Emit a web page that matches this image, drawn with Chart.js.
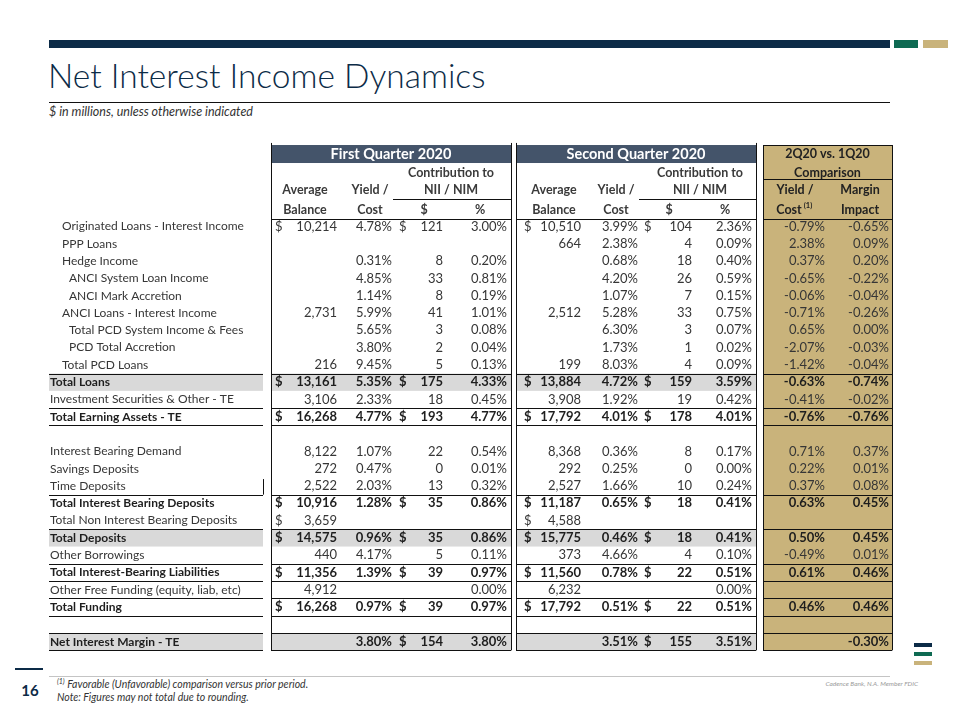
<!DOCTYPE html>
<html>
<head>
<meta charset="utf-8">
<script src="https://cdn.jsdelivr.net/npm/chart.js@4"></script>
<style>
  html, body { margin: 0; padding: 0; background: #fff; }
  body { width: 960px; height: 720px; position: relative; overflow: hidden; font-family: Lato, "Open Sans", sans-serif; }
  .abs { position: absolute; }
  #title { left: 48px; top: 56px; font-size: 33.5px; line-height: 38px; font-weight: 300; color: #0c2b47; white-space: nowrap; }
  #sub { left: 49px; top: 105px; font-size: 12.5px; line-height: 14px; font-style: italic; color: #333; white-space: nowrap; }
  #tbl { left: 0; top: 140px; }
  .note { left: 57px; font-size: 10.5px; line-height: 12px; font-style: italic; color: #333; white-space: nowrap; }
  .note sup { font-size: 7px; line-height: 0; vertical-align: 4px; }
  #page { left: 20px; top: 681px; font-size: 15px; line-height: 18px; font-weight: 700; color: #0c2b47; width: 20px; text-align: center; }
  #fdic { right: 42px; top: 680px; font-size: 6.5px; line-height: 8px; font-style: italic; color: #9a9a9a; }
</style>
</head>
<body>
<div class="abs" style="left:49px;top:40px;width:841px;height:8px;background:#0c2b47"></div>
<div class="abs" style="left:894px;top:40px;width:24px;height:8px;background:#0e6a52"></div>
<div class="abs" style="left:923px;top:40px;width:25px;height:8px;background:#c9b37b"></div>
<div id="title" class="abs">Net Interest Income Dynamics</div>
<div class="abs" style="left:49px;top:102px;width:841px;height:1px;background:#111"></div>
<div id="sub" class="abs">$ in millions, unless otherwise indicated</div>

<canvas id="tbl" class="abs" width="960" height="519"></canvas>

<div class="abs" style="left:15px;top:668px;width:28px;height:2px;background:#0c2b47"></div>
<div class="abs" style="left:49px;top:676px;width:841px;height:1px;background:#c4c4c4"></div>
<div id="page" class="abs">16</div>
<div class="abs note" style="top:678px"><sup>(1)</sup> Favorable (Unfavorable) comparison versus prior period.</div>
<div class="abs note" style="top:691px">Note: Figures may not total due to rounding.</div>
<div id="fdic" class="abs">Cadence Bank, N.A. Member FDIC</div>
<div class="abs" style="left:914px;top:643px;width:18px;height:4px;background:#0c2b47"></div>
<div class="abs" style="left:914px;top:652px;width:18px;height:4px;background:#0e6a52"></div>
<div class="abs" style="left:914px;top:661px;width:18px;height:4px;background:#c9b37b"></div>

<script>
// row labels, top to bottom ('' = spacer row)
const rowLabels = [
  'Originated Loans - Interest Income', 'PPP Loans', 'Hedge Income',
  'ANCI System Loan Income', 'ANCI Mark Accretion', 'ANCI Loans - Interest Income',
  'Total PCD System Income & Fees', 'PCD Total Accretion', 'Total PCD Loans',
  'Total Loans', 'Investment Securities & Other - TE', 'Total Earning Assets - TE', '',
  'Interest Bearing Demand', 'Savings Deposits', 'Time Deposits',
  'Total Interest Bearing Deposits', 'Total Non Interest Bearing Deposits', 'Total Deposits',
  'Other Borrowings', 'Total Interest-Bearing Liabilities', 'Other Free Funding (equity, liab, etc)',
  'Total Funding', '', 'Net Interest Margin - TE'
];
const labelLevel = [1,1,1,2,2,1,2,2,1,0,0,0,0,0,0,0,0,0,0,0,0,0,0,0,0];
const boldRows = [9, 11, 16, 18, 20, 22, 24];
const shadedRows = [9, 18, 24];
const balanceDollarRows = [0, 9, 11, 16, 17, 18, 20, 22];
const niiDollarRows = [0, 9, 11, 16, 18, 20, 22, 24];

// First Quarter 2020
const q1Balance = [10214, null, null, null, null, 2731, null, null, 216, 13161, 3106, 16268, null,
  8122, 272, 2522, 10916, 3659, 14575, 440, 11356, 4912, 16268, null, null];
const q1Yield = [4.78, null, 0.31, 4.85, 1.14, 5.99, 5.65, 3.80, 9.45, 5.35, 2.33, 4.77, null,
  1.07, 0.47, 2.03, 1.28, null, 0.96, 4.17, 1.39, null, 0.97, null, 3.80];
const q1Nii = [121, null, 8, 33, 8, 41, 3, 2, 5, 175, 18, 193, null,
  22, 0, 13, 35, null, 35, 5, 39, null, 39, null, 154];
const q1Nim = [3.00, null, 0.20, 0.81, 0.19, 1.01, 0.08, 0.04, 0.13, 4.33, 0.45, 4.77, null,
  0.54, 0.01, 0.32, 0.86, null, 0.86, 0.11, 0.97, 0.00, 0.97, null, 3.80];

// Second Quarter 2020
const q2Balance = [10510, 664, null, null, null, 2512, null, null, 199, 13884, 3908, 17792, null,
  8368, 292, 2527, 11187, 4588, 15775, 373, 11560, 6232, 17792, null, null];
const q2Yield = [3.99, 2.38, 0.68, 4.20, 1.07, 5.28, 6.30, 1.73, 8.03, 4.72, 1.92, 4.01, null,
  0.36, 0.25, 1.66, 0.65, null, 0.46, 4.66, 0.78, null, 0.51, null, 3.51];
const q2Nii = [104, 4, 18, 26, 7, 33, 3, 1, 4, 159, 19, 178, null,
  8, 0, 10, 18, null, 18, 4, 22, null, 22, null, 155];
const q2Nim = [2.36, 0.09, 0.40, 0.59, 0.15, 0.75, 0.07, 0.02, 0.09, 3.59, 0.42, 4.01, null,
  0.17, 0.00, 0.24, 0.41, null, 0.41, 0.10, 0.51, 0.00, 0.51, null, 3.51];

// 2Q20 vs. 1Q20
const cmpYield = [-0.79, 2.38, 0.37, -0.65, -0.06, -0.71, 0.65, -2.07, -1.42, -0.63, -0.41, -0.76, null,
  0.71, 0.22, 0.37, 0.63, null, 0.50, -0.49, 0.61, null, 0.46, null, null];
const cmpMargin = [-0.65, 0.09, 0.20, -0.22, -0.04, -0.26, 0.00, -0.03, -0.04, -0.74, -0.02, -0.76, null,
  0.37, 0.01, 0.08, 0.45, null, 0.45, 0.01, 0.46, null, 0.46, null, -0.30];

const blockTitles = ['First Quarter 2020', 'Second Quarter 2020'];

// layout (x in page pixels, y in row units)
const BOX = { label: [49, 263], q1: [271, 511], q2: [516, 756], cmp: [763, 892] };
const COLS = {
  q1: { dollar: 275, bal: 337, yld: 392, nd: 399, nii: 443, pct: 507 },
  q2: { dollar: 524, bal: 581, yld: 638, nd: 644, nii: 692, pct: 752 },
  cmp: { yld: 825, mrg: 889 }
};
const INDENT = [50, 62, 69];
const HDR = { boxTop: -4.83, bandTop: -4.71, band: -4.19, bandBot: -3.67, r1: -3.09, r2: -2.11, r3: -0.95,
  niiRule: -1.59, cmpRule: -2.72, rule: -0.43 };
const ruleRows = [8.5, 10.5, 11.5, 15.5, 17.5, 19.5, 20.5, 21.5, 22.5, 23.5, 24.5];
const LAST = 24.5;

const GOLD = '#c9b37b', SLATE = '#44546a', GREY = '#d9d9d9', INK = '#1e1e1e', SOFT = '#363636';
const FONT = 'Lato, "Open Sans", sans-serif';

const money = v => v.toLocaleString('en-US');
const pct = v => v.toFixed(2) + '%';

function textSet(values, x, fmt, align) {
  const pts = [];
  values.forEach((v, i) => {
    if (v === null || v === undefined || v === '') return;
    pts.push({ x: typeof x === 'function' ? x(i) : x, y: i, t: fmt ? fmt(v) : v });
  });
  return { data: pts, align: align, pointRadius: 0, showLine: false };
}
const onRows = rows => rowLabels.map((_, i) => rows.includes(i) ? '$' : null);

const datasets = [
  textSet(rowLabels, i => INDENT[labelLevel[i]], null, 'left'),
  textSet(onRows(balanceDollarRows), COLS.q1.dollar, null, 'left'),
  textSet(q1Balance, COLS.q1.bal, money, 'right'),
  textSet(q1Yield, COLS.q1.yld, pct, 'right'),
  textSet(onRows(niiDollarRows), COLS.q1.nd, null, 'left'),
  textSet(q1Nii, COLS.q1.nii, money, 'right'),
  textSet(q1Nim, COLS.q1.pct, pct, 'right'),
  textSet(onRows(balanceDollarRows), COLS.q2.dollar, null, 'left'),
  textSet(q2Balance, COLS.q2.bal, money, 'right'),
  textSet(q2Yield, COLS.q2.yld, pct, 'right'),
  textSet(onRows(niiDollarRows), COLS.q2.nd, null, 'left'),
  textSet(q2Nii, COLS.q2.nii, money, 'right'),
  textSet(q2Nim, COLS.q2.pct, pct, 'right'),
  textSet(cmpYield, COLS.cmp.yld, pct, 'right'),
  textSet(cmpMargin, COLS.cmp.mrg, pct, 'right')
];

const tablePlugin = {
  id: 'tablePlugin',
  beforeDatasetsDraw(chart) {
    const ctx = chart.ctx, X = v => chart.scales.x.getPixelForValue(v), Y = r => chart.scales.y.getPixelForValue(r);
    ctx.save();
    const rect = (b, r0, r1, c) => { ctx.fillStyle = c; ctx.fillRect(X(b[0]), Y(r0), X(b[1]) - X(b[0]), Y(r1) - Y(r0)); };
    rect(BOX.cmp, HDR.bandTop, LAST, GOLD);
    rect(BOX.q1, HDR.bandTop, HDR.bandBot, SLATE);
    rect(BOX.q2, HDR.bandTop, HDR.bandBot, SLATE);
    shadedRows.forEach(r => {
      rect(BOX.label, r - 0.5, r + 0.5, GREY);
      rect(BOX.q1, r - 0.5, r + 0.5, GREY);
      rect(BOX.q2, r - 0.5, r + 0.5, GREY);
    });
    ctx.strokeStyle = '#111';
    ctx.lineWidth = 1;
    const hline = (x0, x1, r) => { const y = Math.round(Y(r)) + 0.5; ctx.beginPath(); ctx.moveTo(X(x0), y); ctx.lineTo(X(x1), y); ctx.stroke(); };
    const vline = (x, r0, r1) => { const xx = Math.round(X(x)) + 0.5; ctx.beginPath(); ctx.moveTo(xx, Y(r0)); ctx.lineTo(xx, Y(r1)); ctx.stroke(); };
    ruleRows.forEach(r => Object.values(BOX).forEach(b => hline(b[0], b[1], r)));
    [BOX.q1, BOX.q2, BOX.cmp].forEach(b => hline(b[0], b[1], HDR.rule));
    hline(BOX.cmp[0], BOX.cmp[1], HDR.bandTop);
    hline(BOX.cmp[0], BOX.cmp[1], HDR.cmpRule);
    hline(COLS.q1.yld + 1, BOX.q1[1], HDR.niiRule);
    hline(COLS.q2.yld + 1, BOX.q2[1], HDR.niiRule);
    [BOX.q1, BOX.q2].forEach(b => { vline(b[0], HDR.boxTop, LAST); vline(b[1], HDR.boxTop, LAST); });
    vline(BOX.cmp[0], HDR.bandTop, LAST); vline(BOX.cmp[1], HDR.bandTop, LAST);
    vline(BOX.label[1], 14.6, 15.5);
    ctx.restore();
  },
  afterDatasetsDraw(chart) {
    const ctx = chart.ctx, X = v => chart.scales.x.getPixelForValue(v), Y = r => chart.scales.y.getPixelForValue(r);
    ctx.save();
    ctx.textBaseline = 'middle';
    const put = (t, x, y, align, font, color) => { ctx.font = font; ctx.fillStyle = color; ctx.textAlign = align; ctx.fillText(t, x, y); };
    // header bands
    const hb = 'bold 14.5px ' + FONT, hl = 'bold 12.5px ' + FONT, HC = '#3a3a3a';
    [[BOX.q1, COLS.q1, blockTitles[0]], [BOX.q2, COLS.q2, blockTitles[1]]].forEach(([b, c, title]) => {
      put(title, X((b[0] + b[1]) / 2), Y(HDR.band), 'center', hb, '#fff');
      const avg = X(c.dollar + 30), yc = X(c.yld - 22), ct = X(c.nii + 8);
      put('Contribution to', ct, Y(HDR.r1), 'center', hl, HC);
      put('Average', avg, Y(HDR.r2), 'center', hl, HC);
      put('Balance', avg, Y(HDR.r3), 'center', hl, HC);
      put('Yield /', yc, Y(HDR.r2), 'center', hl, HC);
      put('Cost', yc, Y(HDR.r3), 'center', hl, HC);
      put('NII / NIM', ct, Y(HDR.r2), 'center', hl, HC);
      put('$', X(c.nd + 25), Y(HDR.r3), 'center', hl, HC);
      put('%', X(c.pct - 27), Y(HDR.r3), 'center', hl, HC);
    });
    const cc = X((BOX.cmp[0] + BOX.cmp[1]) / 2), cy = X(COLS.cmp.yld - 30), cm = X(COLS.cmp.mrg - 29);
    put('2Q20 vs. 1Q20', cc, Y(HDR.band), 'center', hl, '#222');
    put('Comparison', cc, Y(HDR.r1), 'center', hl, '#222');
    put('Yield /', cy, Y(HDR.r2), 'center', hl, '#222');
    put('Margin', cm, Y(HDR.r2), 'center', hl, '#222');
    put('Impact', cm, Y(HDR.r3), 'center', hl, '#222');
    ctx.font = hl;
    const cw = ctx.measureText('Cost').width;
    put('Cost', cy - 6, Y(HDR.r3), 'center', hl, '#222');
    put('(1)', cy - 6 + cw / 2 + 2, Y(HDR.r3) - 4, 'left', 'bold 7.5px ' + FONT, '#222');
    // cells, placed by the chart's scales
    chart.data.datasets.forEach((ds, di) => {
      const meta = chart.getDatasetMeta(di);
      meta.data.forEach((el, j) => {
        const p = ds.data[j];
        const bold = boldRows.includes(p.y);
        put(p.t, el.x, el.y, ds.align, (bold ? 'bold ' : '') + (di === 0 ? '12px ' : '13px ') + FONT, bold ? INK : SOFT);
      });
    });
    ctx.restore();
  }
};

new Chart(document.getElementById('tbl'), {
  type: 'scatter',
  data: { datasets: datasets },
  options: {
    responsive: false,
    animation: false,
    devicePixelRatio: 1,
    layout: { padding: 0 },
    events: [],
    plugins: { legend: { display: false }, tooltip: { enabled: false } },
    scales: {
      x: { type: 'linear', min: 0, max: 960, display: false },
      y: { type: 'linear', min: -5, max: 25, reverse: true, display: false }
    }
  },
  plugins: [tablePlugin]
});
</script>
</body>
</html>
